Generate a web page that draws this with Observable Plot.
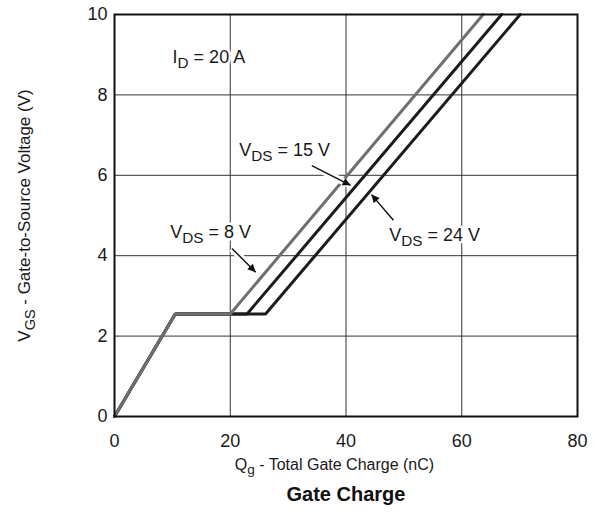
<!DOCTYPE html>
<html>
<head>
<meta charset="utf-8">
<script src="https://cdn.jsdelivr.net/npm/d3@7"></script>
<script src="https://cdn.jsdelivr.net/npm/@observablehq/plot@0.6"></script>
<style>
  html, body { margin: 0; padding: 0; background: #fff; }
  #chart { width: 600px; height: 531px; }
</style>
</head>
<body>
<div id="chart"></div>
<script>
// ---- data ----
const qTicks = [0, 20, 40, 60, 80];
const vTicks = [0, 2, 4, 6, 8, 10];

const seriesNames = ["VDS = 24 V", "VDS = 15 V", "VDS = 8 V"];
const vgsPts = [0, 2.55, 2.55, 10];
const qg24 = [0, 10.5, 26.1, 70.1];
const qg15 = [0, 10.5, 22.9, 66.9];
const qg8  = [0, 10.5, 20.0, 63.7];
const seriesColors = ["#1c1c1c", "#1c1c1c", "#6f6f6f"];

const labelText = ["I_{D} = 20 A", "V_{DS} = 15 V", "V_{DS} = 8 V", "V_{DS} = 24 V"];
const labelQ = [16.3, 29.4, 16.6, 55.3];
const labelV = [8.93, 6.62, 4.58, 4.5];

const arrowQ1 = [34.1, 20.3, 48.2];
const arrowV1 = [6.24, 4.18, 4.88];
const arrowQ2 = [40.8, 24.4, 44.4];
const arrowV2 = [5.75, 3.59, 5.52];

const xLabel = "Q_{g} - Total Gate Charge (nC)";
const yLabel = "V_{GS} - Gate-to-Source Voltage (V)";
const titleText = "Gate Charge";

// ---- build tables ----
const qSets = [qg24, qg15, qg8];
const curves = [];
seriesNames.forEach((s, i) => qSets[i].forEach((q, j) => curves.push({series: s, q, v: vgsPts[j], color: seriesColors[i]})));
const labels = labelText.map((t, i) => ({t, q: labelQ[i], v: labelV[i]}));
const arrows = arrowQ1.map((q, i) => ({q1: q, v1: arrowV1[i], q2: arrowQ2[i], v2: arrowV2[i]}));

const plot = Plot.plot({
  width: 600,
  height: 531,
  marginLeft: 114,
  marginRight: 23,
  marginTop: 14,
  marginBottom: 115,
  style: {fontFamily: "'Liberation Sans', Arial, sans-serif", fontSize: "17px", color: "#1a1a1a", background: "#fff"},
  x: {domain: [0, 80]},
  y: {domain: [0, 10]},
  marks: [
    Plot.gridX(qTicks, {stroke: "#333", strokeOpacity: 1, strokeWidth: 1}),
    Plot.gridY(vTicks, {stroke: "#333", strokeOpacity: 1, strokeWidth: 1}),
    Plot.line(curves, {x: "q", y: "v", z: "series", stroke: "color", strokeWidth: 3, strokeLinejoin: "miter"}),
    Plot.link(arrows, {x1: "q1", y1: "v1", x2: "q2", y2: "v2", stroke: "white", strokeWidth: 7}),
    Plot.link(arrows, {x1: "q1", y1: "v1", x2: "q2", y2: "v2", stroke: "#111", strokeWidth: 1.4}),
    Plot.text(labels, {x: "q", y: "v", text: "t", fill: "#1a1a1a", stroke: "white", strokeWidth: 5, fontSize: 18}),
    Plot.axisX(qTicks, {tickSize: 0, tickPadding: 18, label: null, fontSize: 18}),
    Plot.axisY(vTicks, {tickSize: 0, tickPadding: 7, label: null, fontSize: 18}),
    Plot.text([xLabel], {x: 38, frameAnchor: "bottom", dy: 53, fontSize: 16, fill: "#1a1a1a"}),
    Plot.text([titleText], {x: 40, frameAnchor: "bottom", dy: 84, fontSize: 20, fontWeight: "bold", fill: "#111"}),
    Plot.text([yLabel], {frameAnchor: "left", textAnchor: "middle", dx: -90, rotate: -90, fontSize: 17, fill: "#1a1a1a"}),
    Plot.frame({stroke: "#111", strokeWidth: 2})
  ]
});

// subscripts
d3.select(plot).selectAll("text").each(function() {
  const el = d3.select(this);
  const s = this.textContent;
  if (!s.includes("_{")) return;
  el.text(null);
  const re = /_\{([^}]*)\}/g;
  let last = 0, m;
  while ((m = re.exec(s)) !== null) {
    if (m.index > last) el.append("tspan").text(s.slice(last, m.index));
    el.append("tspan").attr("baseline-shift", "-0.32em").attr("font-size", "0.85em").text(m[1]);
    last = re.lastIndex;
  }
  if (last < s.length) el.append("tspan").text(s.slice(last));
});

// filled arrowheads
const svg = d3.select(plot);
svg.append("defs").append("marker")
  .attr("id", "ahead")
  .attr("viewBox", "0 0 10 10")
  .attr("refX", 10).attr("refY", 5)
  .attr("markerUnits", "userSpaceOnUse")
  .attr("markerWidth", 12).attr("markerHeight", 8)
  .attr("orient", "auto")
  .append("path").attr("d", "M0,0L10,5L0,10Z").attr("fill", "#111");
svg.selectAll("g[aria-label='link']").filter((d, i) => i === 1)
  .selectAll("path").attr("marker-end", "url(#ahead)");

document.getElementById("chart").appendChild(plot);
</script>
</body>
</html>
